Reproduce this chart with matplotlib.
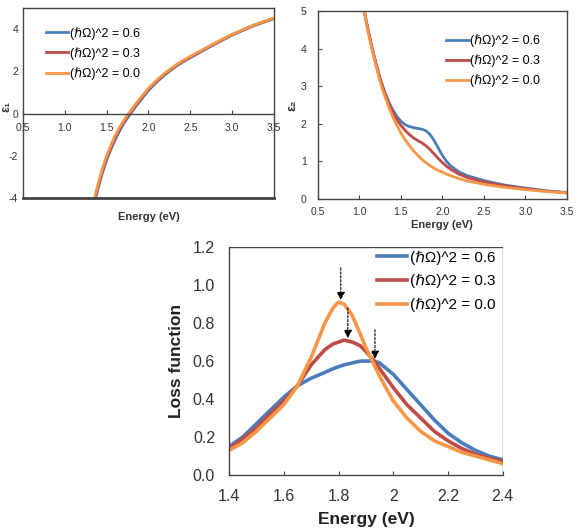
import matplotlib
matplotlib.use('Agg')
import matplotlib.pyplot as plt
import numpy as np

#-------------------------------------------------------------------------
# Data
#-------------------------------------------------------------------------

labels = ['(ℏΩ)^2 = 0.6', '(ℏΩ)^2 = 0.3', '(ℏΩ)^2 = 0.0']
colors = ['#4A7EBB', '#BE4B48', '#F79646']

# epsilon_1
e1_x = [1.35, 1.40, 1.45, 1.50, 1.55, 1.60, 1.65, 1.70, 1.75, 1.80, 1.85,
        1.90, 2.00, 2.10, 2.20, 2.35, 2.50, 2.75, 3.00, 3.25, 3.50]
e1_06 = [-4.3, -3.5, -2.8, -2.2, -1.7, -1.25, -0.85, -0.5, -0.2, 0.08, 0.35,
         0.6, 1.1, 1.5, 1.85, 2.3, 2.65, 3.2, 3.72, 4.15, 4.5]
e1_03 = [-4.2, -3.4, -2.7, -2.1, -1.6, -1.15, -0.76, -0.42, -0.12, 0.15, 0.42,
         0.67, 1.16, 1.55, 1.9, 2.34, 2.68, 3.23, 3.74, 4.17, 4.52]
e1_00 = [-4.1, -3.3, -2.6, -2.0, -1.5, -1.06, -0.68, -0.35, -0.06, 0.2, 0.47,
         0.72, 1.2, 1.59, 1.93, 2.37, 2.71, 3.25, 3.76, 4.18, 4.53]

# epsilon_2
e2_x = [1.06, 1.10, 1.15, 1.20, 1.25, 1.30, 1.35, 1.40, 1.45, 1.50, 1.55,
        1.60, 1.65, 1.70, 1.75, 1.80, 1.85, 1.90, 1.95, 2.00, 2.05, 2.10,
        2.20, 2.30, 2.50, 2.75, 3.00, 3.25, 3.50]
e2_06 = [5.0, 4.55, 4.05, 3.6, 3.2, 2.88, 2.6, 2.38, 2.2, 2.07, 1.98,
         1.93, 1.9, 1.88, 1.86, 1.82, 1.72, 1.56, 1.36, 1.16, 1.0, 0.88,
         0.72, 0.62, 0.49, 0.37, 0.29, 0.22, 0.17]
e2_03 = [5.0, 4.55, 4.05, 3.6, 3.2, 2.86, 2.56, 2.32, 2.12, 1.96, 1.83,
         1.72, 1.63, 1.56, 1.5, 1.42, 1.32, 1.2, 1.08, 0.97, 0.87, 0.79,
         0.66, 0.57, 0.45, 0.35, 0.27, 0.21, 0.16]
e2_00 = [5.0, 4.5, 4.0, 3.55, 3.12, 2.78, 2.47, 2.2, 1.97, 1.76, 1.58,
         1.43, 1.29, 1.17, 1.06, 0.97, 0.89, 0.82, 0.76, 0.71, 0.66, 0.62,
         0.54, 0.48, 0.39, 0.31, 0.25, 0.2, 0.16]

# loss function
lf_x = [1.40, 1.45, 1.50, 1.55, 1.60, 1.65, 1.70, 1.75, 1.78, 1.80, 1.82,
        1.85, 1.88, 1.90, 1.93, 1.95, 2.00, 2.05, 2.10, 2.15, 2.20, 2.25,
        2.30, 2.35, 2.40]
lf_06 = [0.15, 0.20, 0.27, 0.34, 0.41, 0.47, 0.51, 0.54, 0.56, 0.57, 0.58,
         0.59, 0.60, 0.60, 0.60, 0.59, 0.53, 0.45, 0.37, 0.29, 0.22, 0.17,
         0.13, 0.10, 0.08]
lf_03 = [0.14, 0.19, 0.25, 0.32, 0.39, 0.47, 0.58, 0.66, 0.69, 0.70, 0.71,
         0.70, 0.68, 0.65, 0.60, 0.56, 0.46, 0.37, 0.30, 0.23, 0.18, 0.14,
         0.11, 0.09, 0.07]
lf_00 = [0.13, 0.17, 0.23, 0.30, 0.37, 0.47, 0.62, 0.80, 0.88, 0.91, 0.90,
         0.84, 0.74, 0.67, 0.58, 0.52, 0.39, 0.30, 0.23, 0.18, 0.15, 0.12,
         0.10, 0.08, 0.06]

# arrow markers: x, top, tip
arr_x   = [1.808, 1.834, 1.933]
arr_top = [1.09, 0.88, 0.765]
arr_tip = [0.92, 0.72, 0.61]

#-------------------------------------------------------------------------
# Configure matplotlib
#-------------------------------------------------------------------------

plt.rcParams['font.family'] = ['Liberation Sans', 'DejaVu Sans']
plt.rcParams['axes.edgecolor'] = '#444444'
plt.rcParams['axes.linewidth'] = 1.0
plt.rcParams['axes.unicode_minus'] = False

fig = plt.figure(figsize=(5.79, 5.32), dpi=100)

def style_ticks(ax, size):
    ax.tick_params(direction='in', length=3, width=0.8, labelsize=size,
                   colors='#444444', labelcolor='#333333')

small_leg = dict(frameon=False, fontsize=9, handlelength=1.8,
                 handletextpad=0.15, labelspacing=0.6, borderaxespad=0,
                 borderpad=0)

#-------------------------------------------------------------------------
# epsilon_1
#-------------------------------------------------------------------------

ax1 = fig.add_axes([0.0397, 0.6278, 0.4335, 0.357])
for y, c, l in zip([e1_06, e1_03, e1_00], colors, labels):
    ax1.plot(e1_x, y, color=c, lw=2.0, label=l)
ax1.set_xlim(0.5, 3.5)
ax1.set_ylim(-4, 5)
ax1.set_yticks([-4, -2, 0, 2, 4])
ax1.set_xticks([0.5, 1.0, 1.5, 2.0, 2.5, 3.0, 3.5])
ax1.set_xticklabels(['0.5', '1.0', '1.5', '2.0', '2.5', '3.0', '3.5'])
ax1.spines['bottom'].set_position(('data', 0))
ax1.axhline(-4, color='#444444', lw=2.0, clip_on=False)
style_ticks(ax1, 7.5)
ax1.tick_params(axis='x', pad=7)
ax1.tick_params(axis='y', length=0)
ax1.text(0.5, -0.10, 'Energy (eV)', transform=ax1.transAxes, ha='center',
         va='center', fontsize=8, fontweight='bold', color='#333333')
fig.text(0.0, 0.80, 'ε₁', rotation=90, ha='left', va='center',
         fontsize=9, fontweight='bold', color='#333333')
ax1.legend(loc='upper left', bbox_to_anchor=(0.09, 0.9), **small_leg)

#-------------------------------------------------------------------------
# epsilon_2
#-------------------------------------------------------------------------

ax2 = fig.add_axes([0.549, 0.626, 0.430, 0.353])
for y, c, l in zip([e2_06, e2_03, e2_00], colors, labels):
    ax2.plot(e2_x, y, color=c, lw=2.0, label=l)
ax2.set_xlim(0.5, 3.5)
ax2.set_ylim(0, 5)
ax2.set_yticks([0, 1, 2, 3, 4, 5])
ax2.set_xticks([0.5, 1.0, 1.5, 2.0, 2.5, 3.0, 3.5])
ax2.set_xticklabels(['0.5', '1.0', '1.5', '2.0', '2.5', '3.0', '3.5'])
style_ticks(ax2, 7.5)
ax2.tick_params(axis='y', pad=8)
ax2.tick_params(axis='x', pad=6)
ax2.set_xlabel('Energy (eV)', fontsize=8, fontweight='bold', color='#333333',
               labelpad=2)
ax2.set_ylabel('ε₂', fontsize=9, fontweight='bold', color='#333333',
               labelpad=2)
ax2.legend(loc='upper left', bbox_to_anchor=(0.515, 0.875), **small_leg)

#-------------------------------------------------------------------------
# loss function
#-------------------------------------------------------------------------

ax3 = fig.add_axes([0.3955, 0.107, 0.473, 0.4286])
for y, c, l in zip([lf_06, lf_03, lf_00], colors, labels):
    ax3.plot(lf_x, y, color=c, lw=2.6, label=l)
for x, t, b in zip(arr_x, arr_top, arr_tip):
    ax3.annotate('', xy=(x, b), xytext=(x, t),
                 arrowprops=dict(arrowstyle='-|>', color='black', lw=0.8,
                                 linestyle=(0, (2, 1.5)), mutation_scale=12,
                                 shrinkA=0, shrinkB=0))
ax3.set_xlim(1.4, 2.4)
ax3.set_ylim(0, 1.2)
ax3.set_xticks([1.4, 1.6, 1.8, 2.0, 2.2, 2.4])
ax3.set_xticklabels(['1.4', '1.6', '1.8', '2', '2.2', '2.4'])
ax3.set_yticks([0.0, 0.2, 0.4, 0.6, 0.8, 1.0, 1.2])
ax3.set_yticklabels(['0.0', '0.2', '0.4', '0.6', '0.8', '1.0', '1.2'])
for s in ['top', 'right']:
    ax3.spines[s].set_visible(False)
ax3.axhline(1.2, color='#444444', lw=1.0)
ax3.axvline(2.4, color='#444444', lw=1.0)
style_ticks(ax3, 11.5)
ax3.tick_params(axis='y', length=0, pad=10)
ax3.tick_params(axis='x', pad=10)
ax3.set_xlabel('Energy (eV)', fontsize=12.5, fontweight='bold',
               color='#222222', labelpad=6)
ax3.set_ylabel('Loss function', fontsize=12.5, fontweight='bold',
               color='#222222', labelpad=6)
ax3.legend(loc='upper left', bbox_to_anchor=(0.54, 0.985), frameon=False,
           fontsize=11, handlelength=2.0, handletextpad=0.15,
           labelspacing=0.62, borderaxespad=0, borderpad=0)

plt.savefig('out.png', dpi=100)
